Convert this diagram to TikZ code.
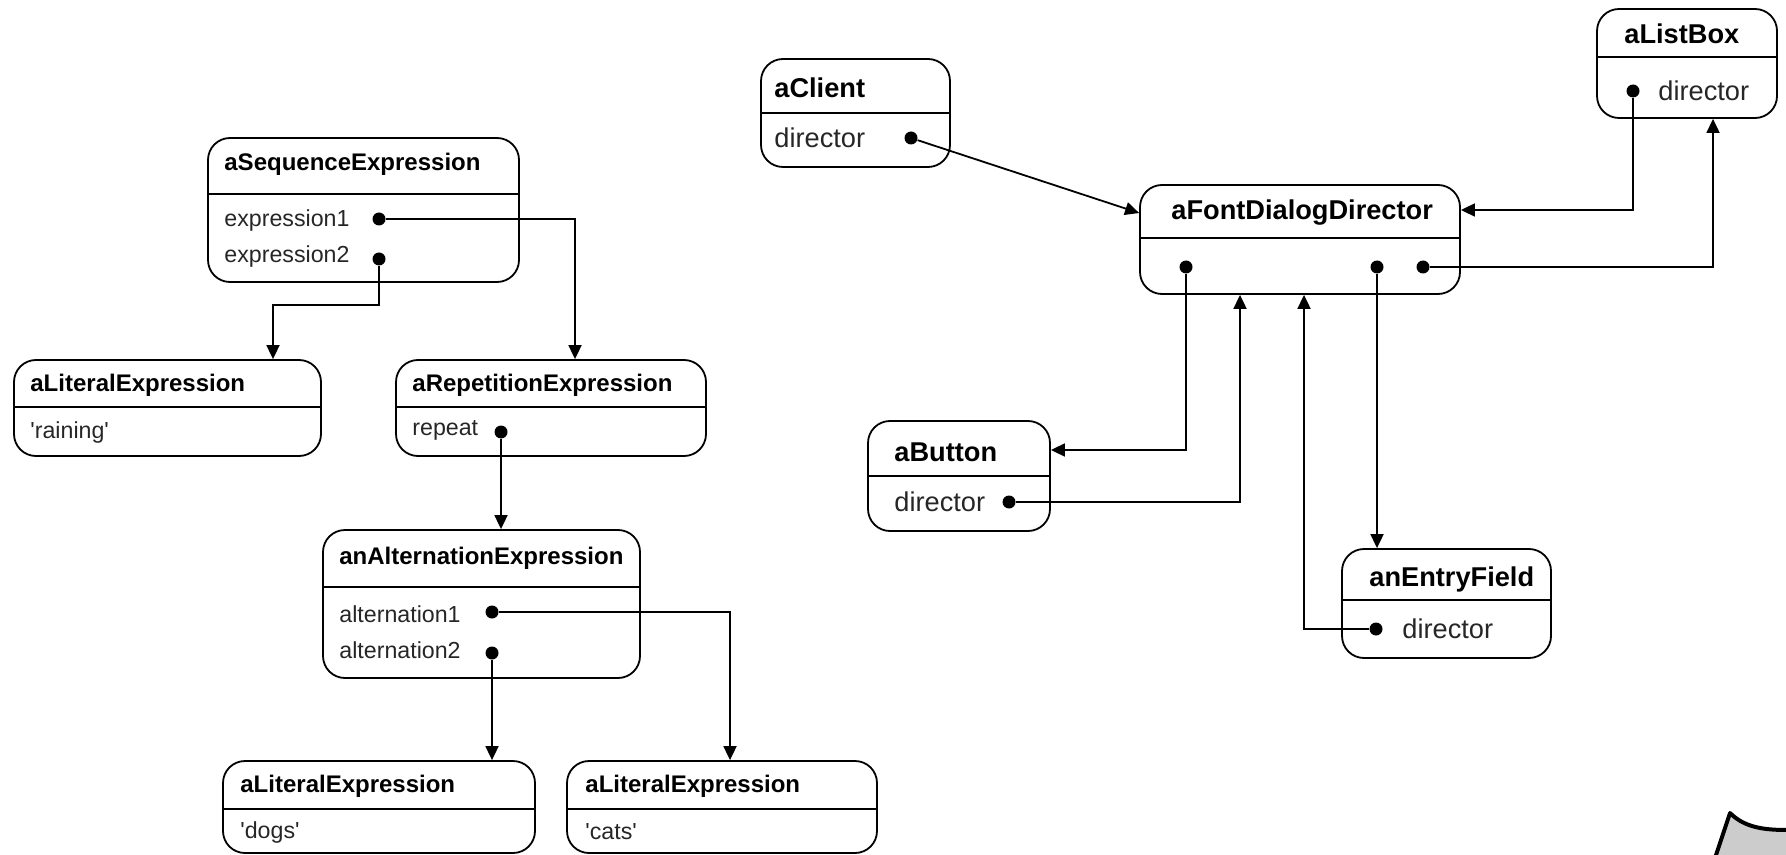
\documentclass[tikz,border=0pt]{standalone}
\usepackage{fontspec}
\setmainfont{Liberation Sans}
\usetikzlibrary{arrows.meta}
\usetikzlibrary{fit}

\begin{document}
\begin{tikzpicture}[x=0.5pt, y=-0.5pt,
    objbox/.style={draw, line width=0.9pt, rounded corners=11pt, inner sep=0pt},
    ttl/.style={anchor=west, inner sep=0pt, font=\bfseries\fontsize{12}{14}\selectfont},
    fld/.style={anchor=west, inner sep=0pt, text=black!85, font=\fontsize{11.6}{13}\selectfont},
    rttl/.style={ttl, font=\bfseries\fontsize{13.6}{16}\selectfont},
    rfld/.style={fld, font=\fontsize{13.6}{16}\selectfont},
    ptr/.style={circle, fill, inner sep=0pt, minimum size=6.5pt},
    link/.style={line width=0.9pt, -{Triangle[length=7pt,width=6.5pt]}}]

          \useasboundingbox (0,0) rectangle (1786,855);

          % interpreter objects
          \node[objbox, fit={(208,138) (519,282)}] (seq) {};
          \draw[line width=0.9pt] (seq.west |- 0,194) -- (seq.east |- 0,194);
          \node[ttl] (seqT) at (224,164) {aSequenceExpression};
          \node[fld] (seqE1) at (224,221) {expression1};
          \node[fld] (seqE2) at (224,257) {expression2};
          \node[ptr] (pE1) at (379,219) {};
          \node[ptr] (pE2) at (379,259) {};

          \node[objbox, fit={(14,360) (321,456)}] (lit1) {};
          \draw[line width=0.9pt] (lit1.west |- 0,407) -- (lit1.east |- 0,407);
          \node[ttl] (lit1T) at (30,385) {aLiteralExpression};
          \node[fld] (lit1V) at (30,432) {\textquotesingle raining\textquotesingle};

          \node[objbox, fit={(396,360) (706,456)}] (rep) {};
          \draw[line width=0.9pt] (rep.west |- 0,407) -- (rep.east |- 0,407);
          \node[ttl] (repT) at (412,385) {aRepetitionExpression};
          \node[fld] (repV) at (412,430) {repeat};
          \node[ptr] (pRep) at (501,432) {};

          \node[objbox, fit={(323,530) (640,678)}] (alt) {};
          \draw[line width=0.9pt] (alt.west |- 0,587) -- (alt.east |- 0,587);
          \node[ttl] (altT) at (339,558) {anAlternationExpression};
          \node[fld] (altA1) at (339,614) {alternation1};
          \node[fld] (altA2) at (339,650) {alternation2};
          \node[ptr] (pA1) at (492,612) {};
          \node[ptr] (pA2) at (492,653) {};

          \node[objbox, fit={(223,761) (535,853)}] (dogs) {};
          \draw[line width=0.9pt] (dogs.west |- 0,809) -- (dogs.east |- 0,809);
          \node[ttl] (dogsT) at (240,786) {aLiteralExpression};
          \node[fld] (dogsV) at (240,832) {\textquotesingle dogs\textquotesingle};

          \node[objbox, fit={(567,761) (877,853)}] (cats) {};
          \draw[line width=0.9pt] (cats.west |- 0,809) -- (cats.east |- 0,809);
          \node[ttl] (catsT) at (585,786) {aLiteralExpression};
          \node[fld] (catsV) at (585,832) {\textquotesingle cats\textquotesingle};

          \coordinate (kE2) at (273,305);
          \coordinate (kE1) at (575,219);
          \coordinate (kA1) at (730,612);
          \draw[link] (pE2) |- (kE2) -- (kE2 |- lit1.north);
          \draw[link] (pE1) -- (kE1) -- (kE1 |- rep.north);
          \draw[link] (pRep) -- (pRep |- alt.north);
          \draw[link] (pA1) -- (kA1) -- (kA1 |- cats.north);
          \draw[link] (pA2) -- (pA2 |- dogs.north);

          % mediator objects
          \node[objbox, fit={(761,59) (950,167)}] (client) {};
          \draw[line width=0.9pt] (client.west |- 0,113) -- (client.east |- 0,113);
          \node[rttl] (clientT) at (774,88) {aClient};
          \node[rfld] (clientD) at (774,138) {director};
          \node[ptr] (pClient) at (911,138) {};

          \node[objbox, fit={(1140,185) (1460,294)}] (font) {};
          \draw[line width=0.9pt] (font.west |- 0,238) -- (font.east |- 0,238);
          \node[rttl] (fontT) at (1171,213) {aFontDialogDirector};
          \node[ptr] (pF1) at (1186,267) {};
          \node[ptr] (pF2) at (1377,267) {};
          \node[ptr] (pF3) at (1423,267) {};

          \node[objbox, fit={(1597,9) (1777,118)}] (list) {};
          \draw[line width=0.9pt] (list.west |- 0,57) -- (list.east |- 0,57);
          \node[rttl] (listT) at (1624,34) {aListBox};
          \node[rfld] (listD) at (1658,91) {director};
          \node[ptr] (pList) at (1633,91) {};

          \node[objbox, fit={(868,421) (1050,531)}] (btn) {};
          \draw[line width=0.9pt] (btn.west |- 0,476) -- (btn.east |- 0,476);
          \node[rttl] (btnT) at (894,452) {aButton};
          \node[rfld] (btnD) at (894,502) {director};
          \node[ptr] (pBtn) at (1009,502) {};

          \node[objbox, fit={(1342,549) (1551,658)}] (entry) {};
          \draw[line width=0.9pt] (entry.west |- 0,600) -- (entry.east |- 0,600);
          \node[rttl] (entryT) at (1369,579) {anEntryField};
          \node[rfld] (entryD) at (1402,629) {director};
          \node[ptr] (pEntry) at (1376,629) {};

          \coordinate (kF3) at (1713,267);
          \coordinate (kList) at (1633,210);
          \coordinate (kF1) at (1186,450);
          \coordinate (kBtn) at (1240,502);
          \coordinate (kEntry) at (1304,629);
          \draw[link] (pClient) -- (font.west |- fontT);
          \draw[link] (pF3) -- (kF3) -- (kF3 |- list.south);
          \draw[link] (pList) -- (kList) -- (kList -| font.east);
          \draw[link] (pF1) -- (kF1) -- (kF1 -| btn.east);
          \draw[link] (pBtn) -- (kBtn) -- (kBtn |- font.south);
          \draw[link] (pF2) -- (pF2 |- entry.north);
          \draw[link] (pEntry) -- (kEntry) -- (kEntry |- font.south);

          % corner sheet
          \fill[black!20] (1715,858) -- (1730,813) .. controls (1745,828) and (1765,830) .. (1788,830) -- (1788,858) -- cycle;
          \draw[line width=2pt, line join=round] (1715,858) -- (1730,813) .. controls (1745,828) and (1765,830) .. (1788,830);

        \end{tikzpicture}
\end{document}
